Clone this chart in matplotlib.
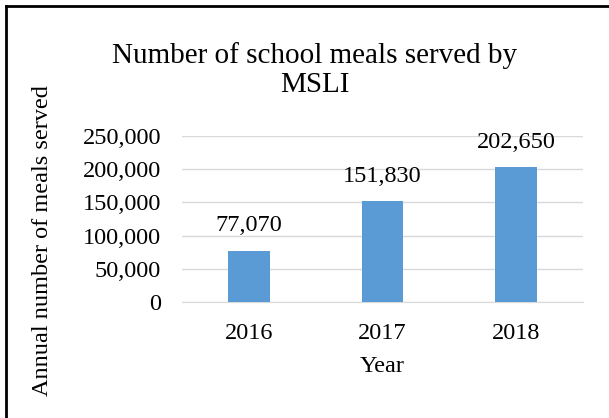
import matplotlib.pyplot as plt
from matplotlib.lines import Line2D
from matplotlib.ticker import FuncFormatter

years = ["2016", "2017", "2018"]
meals = [77070, 151830, 202650]
y_ticks = [0, 50000, 100000, 150000, 200000, 250000]

plt.rcParams['font.family'] = ['Liberation Serif', 'DejaVu Serif']

fig = plt.figure(figsize=(6.09, 4.18), dpi=100)
ax = fig.add_axes([182 / 609, 1 - 302 / 418, 401 / 609, 166 / 418])

x = range(len(years))
bars = ax.bar(x, meals, width=0.31, color="#5B9BD5", zorder=3)
for b, v in zip(bars, meals):
    ax.annotate(f"{v:,}", (b.get_x() + b.get_width() / 2, v),
                xytext=(0, 18), textcoords="offset points",
                ha="center", va="center", fontsize=17.5)

ax.set_xlim(-0.5, 2.5)
ax.set_ylim(0, 250000)
ax.set_yticks(y_ticks)
ax.yaxis.set_major_formatter(FuncFormatter(lambda v, p: f"{int(v):,}"))
ax.set_xticks(list(x))
ax.set_xticklabels(years)
ax.tick_params(axis="both", length=0, labelsize=17.5)
ax.tick_params(axis="y", pad=15)
ax.tick_params(axis="x", pad=15)
ax.grid(axis="y", color="#D9D9D9", linewidth=1, zorder=0)
for s in ["top", "right", "left"]:
    ax.spines[s].set_visible(False)
ax.spines["bottom"].set_color("#D9D9D9")

ax.set_xlabel("Year", fontsize=17.5, labelpad=9)
fig.text(43 / 609, 1 - 241 / 418, "Annual number of meals served", rotation=90,
         ha="center", va="center", fontsize=17.5)
fig.text(315 / 609, 1 - 70 / 418, "Number of school meals served by\nMSLI",
         ha="center", va="center", fontsize=21, linespacing=1.15)

# partial frame (top and left edges)
fig.add_artist(Line2D([6 / 609, 1], [1 - 6 / 418, 1 - 6 / 418], color="black", lw=2))
fig.add_artist(Line2D([6 / 609, 6 / 609], [0, 1 - 6 / 418], color="black", lw=2))

fig.savefig("out.png", dpi=100)
